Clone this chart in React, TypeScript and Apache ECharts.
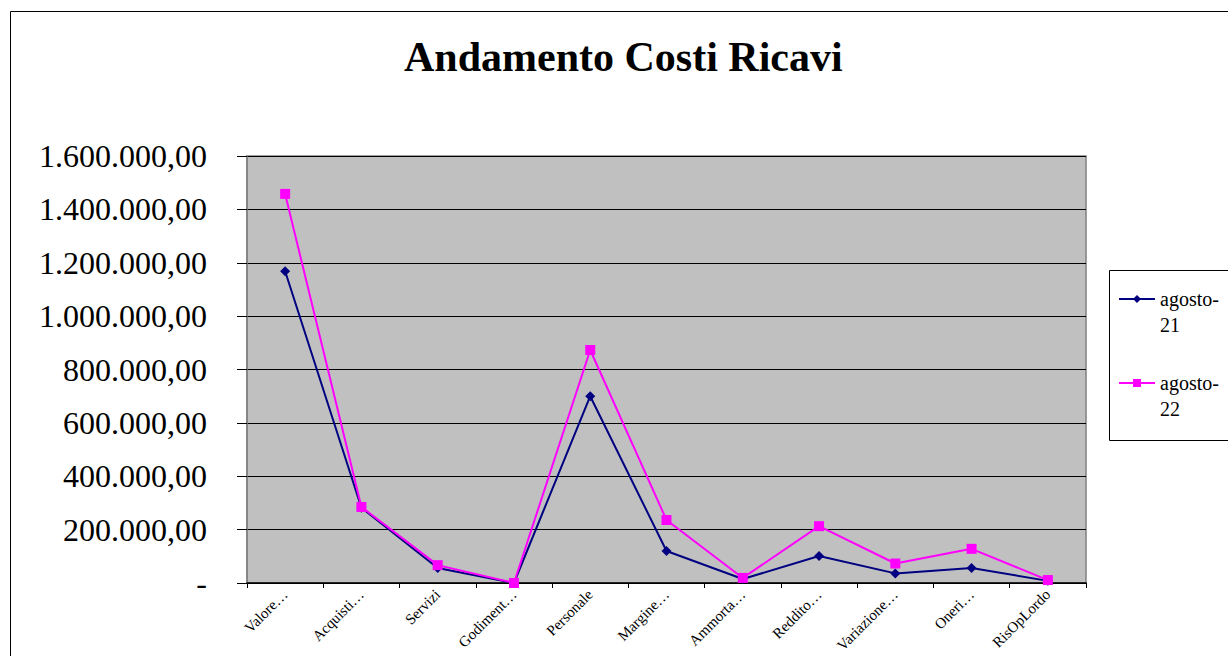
import React, { useEffect, useRef } from "react";
import * as echarts from "echarts";

const categories = [
  "Valore…",
  "Acquisti…",
  "Servizi",
  "Godiment…",
  "Personale",
  "Margine…",
  "Ammorta…",
  "Reddito…",
  "Variazione…",
  "Oneri…",
  "RisOpLordo",
];

const agosto21 = [1168000, 282000, 56000, 0, 700000, 120000, 15000, 101000, 36000, 56000, 8000];
const agosto22 = [1458000, 285000, 67000, 0, 873000, 236000, 19000, 213000, 73000, 128000, 11000];

const seriesNames = ["agosto-21", "agosto-22"];
const yTicks = { min: 0, max: 1600000, interval: 200000 };

function fmtIt(v: number): string {
  if (v === 0) return "-";
  const s = Math.round(v).toString();
  const withDots = s.replace(/\B(?=(\d{3})+(?!\d))/g, ".");
  return withDots + ",00";
}

const SERIF = "'Liberation Serif', 'DejaVu Serif', serif";

export default function App() {
  const ref = useRef<HTMLDivElement>(null);
  useEffect(() => {
    if (!ref.current) return;
    const chart = echarts.init(ref.current, undefined, { renderer: "svg" });
    chart.setOption({
      animation: false,
      backgroundColor: "#ffffff",
      title: {
        text: "Andamento Costi Ricavi",
        left: 399,
        top: 31,
        textStyle: { fontFamily: SERIF, fontSize: 42, fontWeight: "bold", color: "#000" },
      },
      graphic: [
        {
          type: "rect",
          shape: { x: 10.5, y: 11.5, width: 1240, height: 660 },
          style: { fill: "none", stroke: "#000", lineWidth: 1 },
          silent: true,
          z: -1,
        },
        {
          type: "rect",
          shape: { x: 1109.5, y: 270.5, width: 140, height: 170 },
          style: { fill: "#fff", stroke: "#000", lineWidth: 1 },
          silent: true,
          z: 0,
        },
      ],
      legend: {
        orient: "vertical",
        left: 1118,
        top: 260,
        padding: 0,
        itemWidth: 36,
        itemHeight: 10,
        itemGap: 6,
        data: seriesNames,
        formatter: (name: string) => "\n" + name.replace("-", "-\n"),
        textStyle: {
          fontFamily: SERIF,
          fontSize: 20,
          lineHeight: 26,
          color: "#000",
        },
        z: 5,
      },
      grid: {
        left: 247,
        top: 156,
        right: 142,
        bottom: 73,
        show: true,
        backgroundColor: "#c0c0c0",
        borderColor: "#808080",
        borderWidth: 1.5,
      },
      xAxis: {
        type: "category",
        data: categories,
        boundaryGap: true,
        axisLine: { show: true, lineStyle: { color: "#000", width: 1.5 } },
        axisTick: { show: true, alignWithLabel: false, length: 5, lineStyle: { color: "#000" } },
        axisLabel: {
          rotate: 45,
          interval: 0,
          margin: 9,
          fontFamily: SERIF,
          fontSize: 15,
          color: "#000",
        },
      },
      yAxis: {
        type: "value",
        min: yTicks.min,
        max: yTicks.max,
        interval: yTicks.interval,
        axisLine: { show: true, lineStyle: { color: "#808080", width: 1.5 } },
        axisTick: { show: true, inside: false, length: 10, lineStyle: { color: "#000" } },
        splitLine: { show: true, lineStyle: { color: "#000", width: 1 } },
        axisLabel: {
          margin: 40,
          fontFamily: SERIF,
          fontSize: 32,
          color: "#000",
          formatter: (v: number) => fmtIt(v),
        },
      },
      series: [
        {
          name: seriesNames[0],
          type: "line",
          data: agosto21,
          color: "#000080",
          lineStyle: { color: "#000080", width: 2 },
          itemStyle: { color: "#000080" },
          symbol: "diamond",
          symbolSize: 10,
          z: 2,
        },
        {
          name: seriesNames[1],
          type: "line",
          data: agosto22,
          color: "#ff00ff",
          lineStyle: { color: "#ff00ff", width: 2 },
          itemStyle: { color: "#ff00ff" },
          symbol: "rect",
          symbolSize: 10,
          z: 3,
        },
      ],
    });
    return () => chart.dispose();
  }, []);
  return (
    <div
      ref={ref}
      style={{ position: "fixed", left: 0, top: 0, width: 1228, height: 656 }}
    />
  );
}
